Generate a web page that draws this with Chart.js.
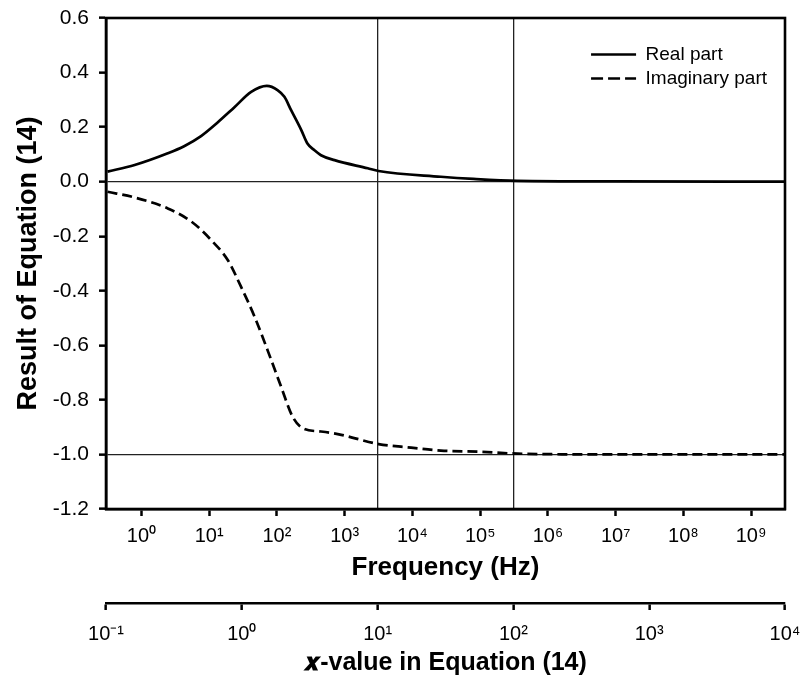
<!DOCTYPE html>
<html>
<head>
<meta charset="utf-8">
<script src="https://cdn.jsdelivr.net/npm/chart.js@4.4.1/dist/chart.umd.min.js"></script>
<style>
  html, body { margin: 0; padding: 0; background: #fff; }
  #wrap { width: 804px; height: 679px; }
</style>
</head>
<body>
<div id="wrap"><canvas id="chart"></canvas></div>
<script>
// Real part of Equation (14)
const realFreq = [0.316, 0.794, 2.45, 4.27, 7.59, 13.2, 23.4, 41.7, 70.8, 102, 129, 162, 229, 282, 355, 447, 708, 2190, 3160, 26300, 79400, 355000, 1e7, 3.16e9];
const realPart = [0.037, 0.061, 0.104, 0.13, 0.167, 0.216, 0.272, 0.329, 0.351, 0.336, 0.311, 0.262, 0.189, 0.14, 0.116, 0.097, 0.079, 0.049, 0.039, 0.018, 0.010, 0.003, 0.001, 0.0];

// Imaginary part of Equation (14)
const imagFreq = [0.316, 0.794, 2.45, 5.5, 10.7, 19.1, 29.5, 46.8, 74.1, 115, 170, 240, 447, 891, 1380, 3160, 9550, 26300, 1e5, 355000, 1e7, 3.16e9];
const imagPart = [-0.037, -0.058, -0.098, -0.147, -0.214, -0.29, -0.385, -0.495, -0.623, -0.751, -0.861, -0.904, -0.916, -0.928, -0.94, -0.962, -0.975, -0.986, -0.99, -0.997, -1.0, -1.0];

// Axis ticks
const freqTicks = [1, 10, 100, 1e3, 1e4, 1e5, 1e6, 1e7, 1e8, 1e9];
const freqTickLabels = ['10\u2070', '10\u00b9', '10\u00b2', '10\u00b3', '10\u2074', '10\u2075', '10\u2076', '10\u2077', '10\u2078', '10\u2079'];
const xValTicks = [0.1, 1, 10, 100, 1000, 10000];
const xValTickLabels = ['10\u207b\u00b9', '10\u2070', '10\u00b9', '10\u00b2', '10\u00b3', '10\u2074'];
// x-values where the thin vertical lines sit
const xValMarked = [10, 100];
// y-values of the thin horizontal lines
const yMarked = [0, -1];

const FONT = '"Liberation Sans", Arial, sans-serif';

function pairs(xs, ys) {
    return xs.map((x, i) => ({x: x, y: ys[i]}));
}

// Frame around the plot area
const frame = {
    id: 'frame',
    afterDatasetsDraw(chart) {
        const a = chart.chartArea;
        const ctx = chart.ctx;
        ctx.save();
        ctx.strokeStyle = '#000';
        ctx.lineWidth = 2.6;
        ctx.strokeRect(a.left, a.top, a.right - a.left, a.bottom - a.top);
        ctx.restore();
    }
};

// Move the legend to the top right corner of the plot area
const legendCorner = {
    id: 'legendCorner',
    afterLayout(chart) {
        const lg = chart.legend;
        if (!lg) return;
        const a = chart.chartArea;
        const w = lg.width, h = lg.height;
        lg.left = a.right - w - 8;
        lg.right = lg.left + w;
        lg.top = a.top + 22;
        lg.bottom = lg.top + h;
    }
};

// no extra room for the end labels, the layout padding already holds them
function noEndPadding(s) {
    s.paddingLeft = 0;
    s.paddingRight = 0;
    s.paddingTop = 0;
    s.paddingBottom = 0;
}

new Chart(document.getElementById('chart'), {
    type: 'line',
    data: {
        datasets: [{
            label: 'Real part',
            data: pairs(realFreq, realPart),
            borderColor: '#000',
            borderWidth: 2.7,
            pointRadius: 0,
            cubicInterpolationMode: 'monotone',
            xAxisID: 'x',
            yAxisID: 'y'
        }, {
            label: 'Imaginary part',
            data: pairs(imagFreq, imagPart),
            borderColor: '#000',
            borderWidth: 2.7,
            borderDash: [10, 5],
            pointRadius: 0,
            cubicInterpolationMode: 'monotone',
            xAxisID: 'x',
            yAxisID: 'y'
        }]
    },
    options: {
        responsive: true,
        maintainAspectRatio: false,
        animation: false,
        layout: {padding: {top: 18, right: 19, left: 0, bottom: 0}},
        plugins: {
            tooltip: {enabled: false},
            legend: {
                position: 'chartArea',
                align: 'start',
                labels: {
                    color: '#000',
                    font: {family: FONT, size: 19},
                    usePointStyle: true,
                    pointStyle: 'line',
                    pointStyleWidth: 45,
                    boxWidth: 45,
                    padding: 5,
                    // keep the dash of each dataset in its legend sample
                    generateLabels: (chart) => Chart.defaults.plugins.legend.labels.generateLabels(chart).map((l, i) => {
                        l.lineDash = chart.data.datasets[i].borderDash ? [12, 5] : [];
                        l.lineWidth = 2.7;
                        return l;
                    })
                }
            }
        },
        scales: {
            x: {
                type: 'logarithmic',
                position: 'bottom',
                min: 0.3162,
                max: 3.162e9,
                afterBuildTicks: (s) => { s.ticks = freqTicks.map(v => ({value: v})); },
                afterFit: (s) => { s.height = 94; noEndPadding(s); },
                ticks: {
                    autoSkip: false,
                    maxRotation: 0,
                    color: '#000',
                    font: {family: FONT, size: 20},
                    padding: 8,
                    callback: (v, i) => freqTickLabels[i]
                },
                grid: {drawOnChartArea: false, tickLength: 7, tickWidth: 2.5, tickColor: '#000'},
                border: {color: '#000', width: 2.5},
                title: {
                    display: true,
                    text: 'Frequency (Hz)',
                    color: '#000',
                    font: {family: FONT, size: 26, weight: 'bold', lineHeight: 1},
                    padding: {top: 0, bottom: 22}
                }
            },
            x2: {
                type: 'logarithmic',
                position: 'bottom',
                min: 0.1,
                max: 10000,
                afterBuildTicks: (s) => { s.ticks = xValTicks.map(v => ({value: v})); },
                afterFit: (s) => { s.height = 76; noEndPadding(s); },
                ticks: {
                    autoSkip: false,
                    maxRotation: 0,
                    color: '#000',
                    font: {family: FONT, size: 20},
                    padding: 12,
                    callback: (v, i) => xValTickLabels[i]
                },
                grid: {
                    drawOnChartArea: true,
                    color: (c) => (c.tick && xValMarked.includes(c.tick.value)) ? '#222' : 'rgba(0,0,0,0)',
                    lineWidth: 1.3,
                    tickLength: 7,
                    tickWidth: 2.5,
                    tickColor: '#000'
                },
                border: {color: '#000', width: 2.5},
                title: {
                    display: true,
                    text: '\ud835\udc99-value in Equation (14)',
                    color: '#000',
                    font: {family: FONT, size: 25, weight: 'bold', lineHeight: 1},
                    padding: {top: 0, bottom: 3}
                }
            },
            y: {
                type: 'linear',
                position: 'left',
                min: -1.2,
                max: 0.6,
                afterFit: (s) => { s.width = 106; noEndPadding(s); },
                ticks: {
                    stepSize: 0.2,
                    color: '#000',
                    font: {family: FONT, size: 21},
                    padding: 10,
                    callback: (v) => (Math.abs(v) < 1e-9 ? 0 : v).toFixed(1)
                },
                grid: {
                    color: (c) => (c.tick && yMarked.some(m => Math.abs(c.tick.value - m) < 1e-9)) ? '#222' : 'rgba(0,0,0,0)',
                    lineWidth: 1.3,
                    tickLength: 7,
                    tickWidth: 2.5,
                    tickColor: '#000'
                },
                border: {color: '#000', width: 2.5},
                title: {
                    display: true,
                    text: 'Result of Equation (14)',
                    color: '#000',
                    font: {family: FONT, size: 27, weight: 'bold', lineHeight: 1},
                    padding: {top: 15, bottom: 0}
                }
            }
        }
    },
    plugins: [frame, legendCorner]
});
</script>
</body>
</html>
